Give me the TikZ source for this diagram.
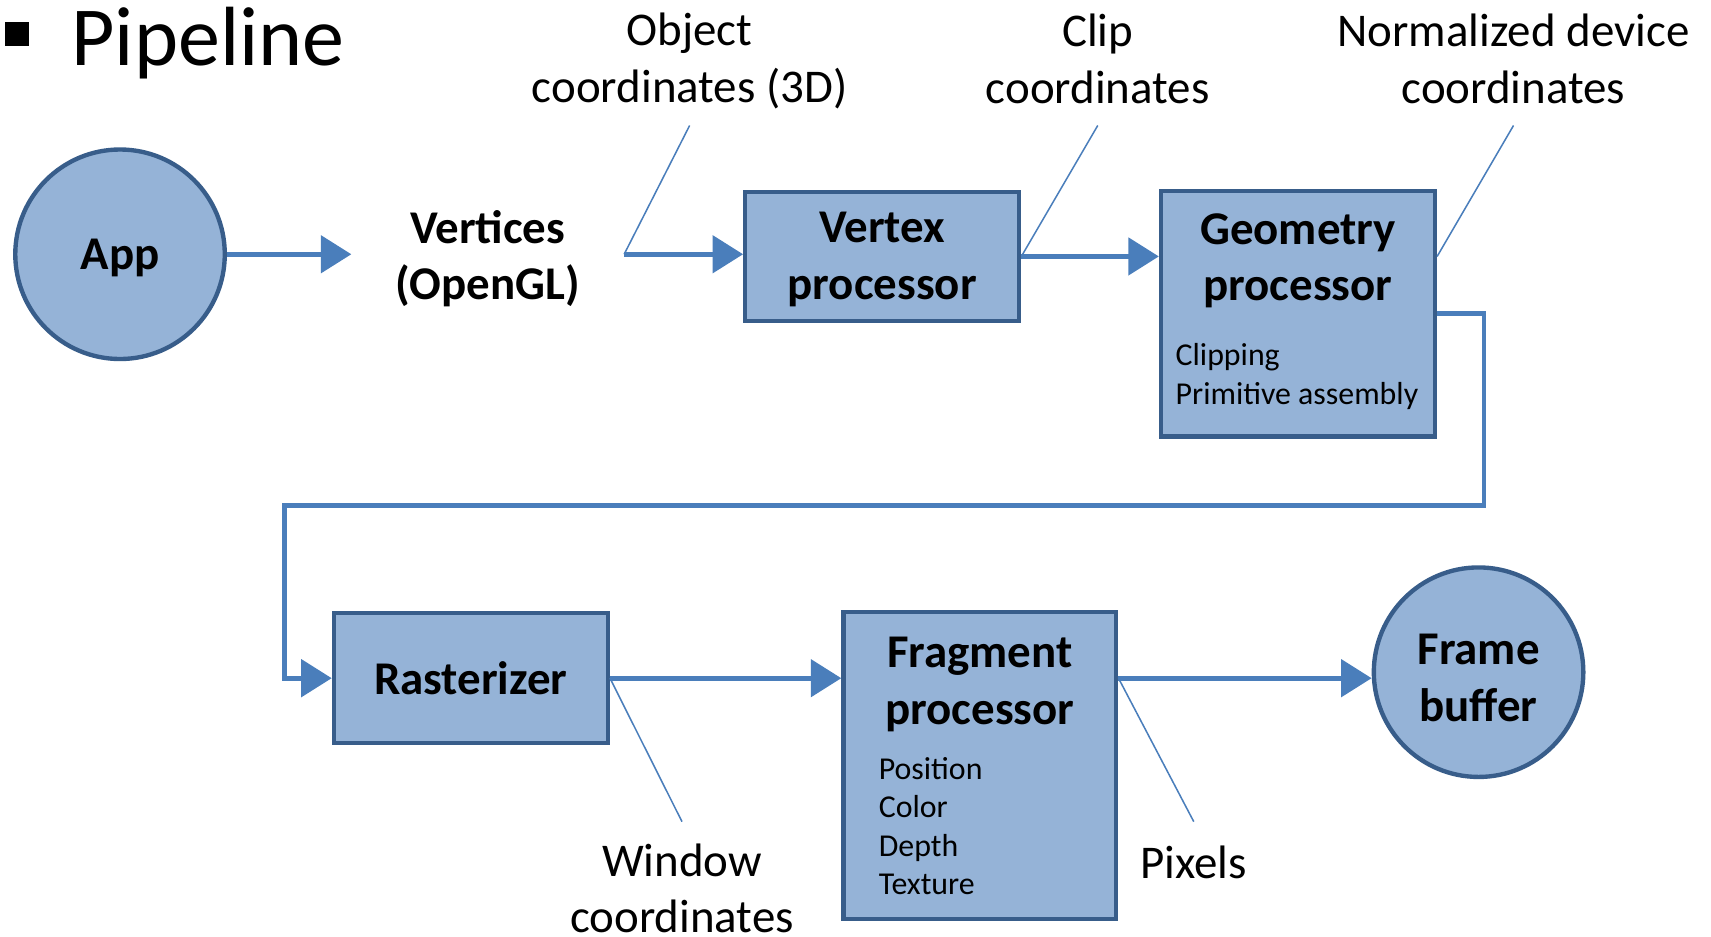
\documentclass[tikz,border=0pt]{standalone}
\usepackage{fontspec}
\setmainfont{Carlito}
\usetikzlibrary{arrows.meta,positioning}
\definecolor{boxfill}{HTML}{95B3D7}
\definecolor{boxline}{HTML}{385D8A}
\definecolor{flowblue}{HTML}{4A7EBB}

\begin{document}
\begin{tikzpicture}[x=0.5pt, y=-0.5pt,
  stage/.style={draw=boxline, fill=boxfill, line width=2pt, rectangle, minimum width=125.5pt},
  blob/.style={draw=boxline, fill=boxfill, line width=2pt, circle, minimum size=96pt, inner sep=0pt},
  big/.style={font=\fontsize{21.5}{26}\selectfont, align=center},
  bigb/.style={font=\fontsize{21.5}{26}\selectfont\bfseries, align=center},
  small/.style={font=\fontsize{14.6}{17.6}\selectfont, align=left, anchor=west, inner sep=0pt},
  flow/.style={draw=flowblue, line width=2.2pt, -{Triangle[length=14pt,width=17pt]}},
  lead/.style={draw=flowblue, line width=0.7pt}]
\useasboundingbox (0,0) rectangle (1568,858);

% Tieu de
\node[fill=black, minimum size=11pt, inner sep=0pt] (bullet) at (16,31) {};
\node[font=\fontsize{38.5}{46}\selectfont, anchor=base west, inner sep=0pt] (title) at (65,60) {Pipeline};

% Cac khoi xu ly
\node[blob] (app) at (110,233) {};
\node[bigb] (applbl) at (110,236) {App};
\node[bigb] (vert) at (447,237) {Vertices\\(OpenGL)};
\node[stage, minimum height=59pt] (vproc) at (808.5,235) {};
\node[bigb] (vtitle) at (808.5,238) {Vertex\\processor};
\node[stage, minimum height=112.5pt] (gproc) at (1189.5,287.5) {};
\node[bigb] (gtitle) at (1189.5,239) {Geometry\\processor};
\node[small] (glist) at (1077,345) {Clipping\\Primitive assembly};
\node[stage, bigb, minimum height=59.5pt] (rast) at (431.5,621.5) {Rasterizer};
\node[stage, minimum width=125pt, minimum height=140.5pt] (fproc) at (898,701.5) {};
\node[bigb] (ftitle) at (898,627) {Fragment\\processor};
\node[small, font=\fontsize{14.6}{17.7}\selectfont] (flist) at (805,757) {Position\\Color\\Depth\\Texture};
\node[blob] (fb) at (1355,616) {};
\node[bigb] (fblbl) at (1355,621) {Frame\\buffer};

% Nhan toa do
\node[big] (objlbl) at (632,56) {Object\\coordinates (3D)};
\node[big] (cliplbl) at (1006,54) {Clip\\coordinates};
\node[big] (ndclbl) at (1387,54) {Normalized device\\coordinates};
\node[big] (winlbl) at (625,814) {Window\\coordinates};
\node[big] (pixlbl) at (1094,790) {Pixels};

% Diem dau cac duong chi dan
\coordinate (objfoot) at (632,115);
\coordinate (vin) at (572,233);
\coordinate (clipfoot) at (1006,115);
\coordinate (ndcfoot) at (1387,115);
\coordinate (winfoot) at (625,753);
\coordinate (pixfoot) at (1094,753);

% Mui ten luong du lieu
\draw[flow] (app.east) -- (322,233);
\draw[flow] (vin) -- (vin -| vproc.west);
\draw[flow] (vproc.east) -- (vproc.east -| gproc.west);
\draw[flow] (gproc.east) -- ++(43,0) -- ++(0,175.5) -| ([xshift=-21.5pt]rast.west) -- (rast.west);
\draw[flow] (rast.east) -- (rast.east -| fproc.west);
\draw[flow] (rast.east -| fproc.east) -- (rast.east -| fb.west);

% Duong chi dan
\draw[lead] (objfoot) -- (vin);
\draw[lead] (clipfoot) -- (vproc.east);
\draw[lead] (ndcfoot) -- (vproc.east -| gproc.east);
\draw[lead] (rast.east) -- (winfoot);
\draw[lead] (rast.east -| fproc.east) -- (pixfoot);
\end{tikzpicture}
\end{document}
